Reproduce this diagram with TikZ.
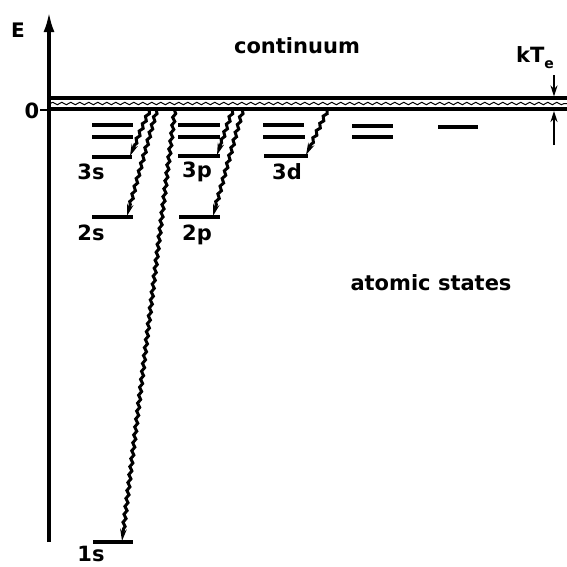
\documentclass[tikz,border=0pt]{standalone}
\usepackage{fontspec}
\setmainfont{DejaVu Sans}
\usetikzlibrary{arrows.meta,decorations.pathmorphing}
\begin{document}
\begin{tikzpicture}[x=1pt,y=-1pt,
  lvl/.style={line width=3.6pt},
  band/.style={line width=3.2pt},
  wavy/.style={line width=3pt,decorate,
    decoration={snake,amplitude=1.3pt,segment length=8pt,pre length=2pt,post length=10pt},
    -{Stealth[length=12pt,width=6.5pt]}},
  lab/.style={font=\fontsize{21}{21}\selectfont\bfseries,inner sep=0pt},
  kt/.style={line width=2.6pt,-{Stealth[length=11pt,width=7pt]}}]
\useasboundingbox (0,0) rectangle (567,566);
% axis
\coordinate (ax0) at (49,542);
\coordinate (ax1) at (49,12);
\draw[line width=3.4pt,-{Latex[length=20pt,width=11pt]}] (ax0) -- (ax1);
\node[inner sep=0pt,font=\fontsize{20}{20}\selectfont\bfseries] (E) at (18,30) {E};
\node[lab] (zero) at (32,111) {0};
\coordinate (t0) at (40,110);
\coordinate (t1) at (49,110);
\draw[line width=2.8pt] (t0) -- (t1);
% continuum band
\coordinate (b1) at (47.5,98); \coordinate (b2) at (567,98);
\coordinate (b3) at (47.5,109); \coordinate (b4) at (567,109);
\coordinate (b5) at (50,103.5); \coordinate (b6) at (567,103.5);
\draw[band] (b1) -- (b2);
\draw[band] (b3) -- (b4);
\draw[line width=1pt,decorate,decoration={snake,amplitude=1.2pt,segment length=9pt}] (b5) -- (b6);
\node[lab] (cont) at (297,46) {continuum};
\node[lab] (atom) at (431,283) {atomic states};
% kT_e
\node[lab,anchor=base west] (kT) at (516,62) {kT\raisebox{-6pt}{\fontsize{14}{14}\selectfont e}};
\coordinate (k1) at (554,75); \coordinate (k2) at (554,96.5);
\coordinate (k3) at (554,145); \coordinate (k4) at (554,111);
\draw[kt] (k1) -- (k2);
\draw[kt] (k3) -- (k4);
% s levels
\draw[lvl] (92,125) -- (133,125);
\draw[lvl] (92,137) -- (133,137);
\coordinate (s3a) at (92,157); \coordinate (s3b) at (132,157);
\draw[lvl] (s3a) -- (s3b);
\coordinate (s2a) at (92,217); \coordinate (s2b) at (133,217);
\draw[lvl] (s2a) -- (s2b);
\coordinate (s1a) at (93,542); \coordinate (s1b) at (133,542);
\draw[lvl] (s1a) -- (s1b);
\node[lab] (l3s) at (91,172) {3s};
\node[lab] (l2s) at (91,233) {2s};
\node[lab] (l1s) at (91,554) {1s};
% p levels
\draw[lvl] (178,125) -- (220,125);
\draw[lvl] (178,137) -- (220,137);
\draw[lvl] (178,156) -- (220,156);
\draw[lvl] (179,217) -- (220,217);
\node[lab] (l3p) at (197,172) {3p};
\node[lab] (l2p) at (197,235) {2p};
% d levels
\draw[lvl] (263,125) -- (304,125);
\draw[lvl] (263,137) -- (305,137);
\draw[lvl] (264,156) -- (308,156);
\node[lab] (l3d) at (287,172) {3d};
% f levels
\draw[lvl] (352,126) -- (393,126);
\draw[lvl] (352,137) -- (393,137);
% g level
\draw[lvl] (438,127) -- (478,127);
% transitions
\coordinate (c3s) at (150,109); \coordinate (e3s) at (130,156);
\coordinate (c2s) at (157,109); \coordinate (e2s) at (127,216);
\coordinate (c1s) at (175,109); \coordinate (e1s) at (122,541);
\coordinate (c3p) at (233,109); \coordinate (e3p) at (217,155);
\coordinate (c2p) at (243,109); \coordinate (e2p) at (213,216);
\coordinate (c3d) at (328,109); \coordinate (e3d) at (306,155);
\draw[wavy] (c3s) -- (e3s);
\draw[wavy] (c2s) -- (e2s);
\draw[wavy] (c1s) -- (e1s);
\draw[wavy] (c3p) -- (e3p);
\draw[wavy] (c2p) -- (e2p);
\draw[wavy] (c3d) -- (e3d);
\end{tikzpicture}
\end{document}
